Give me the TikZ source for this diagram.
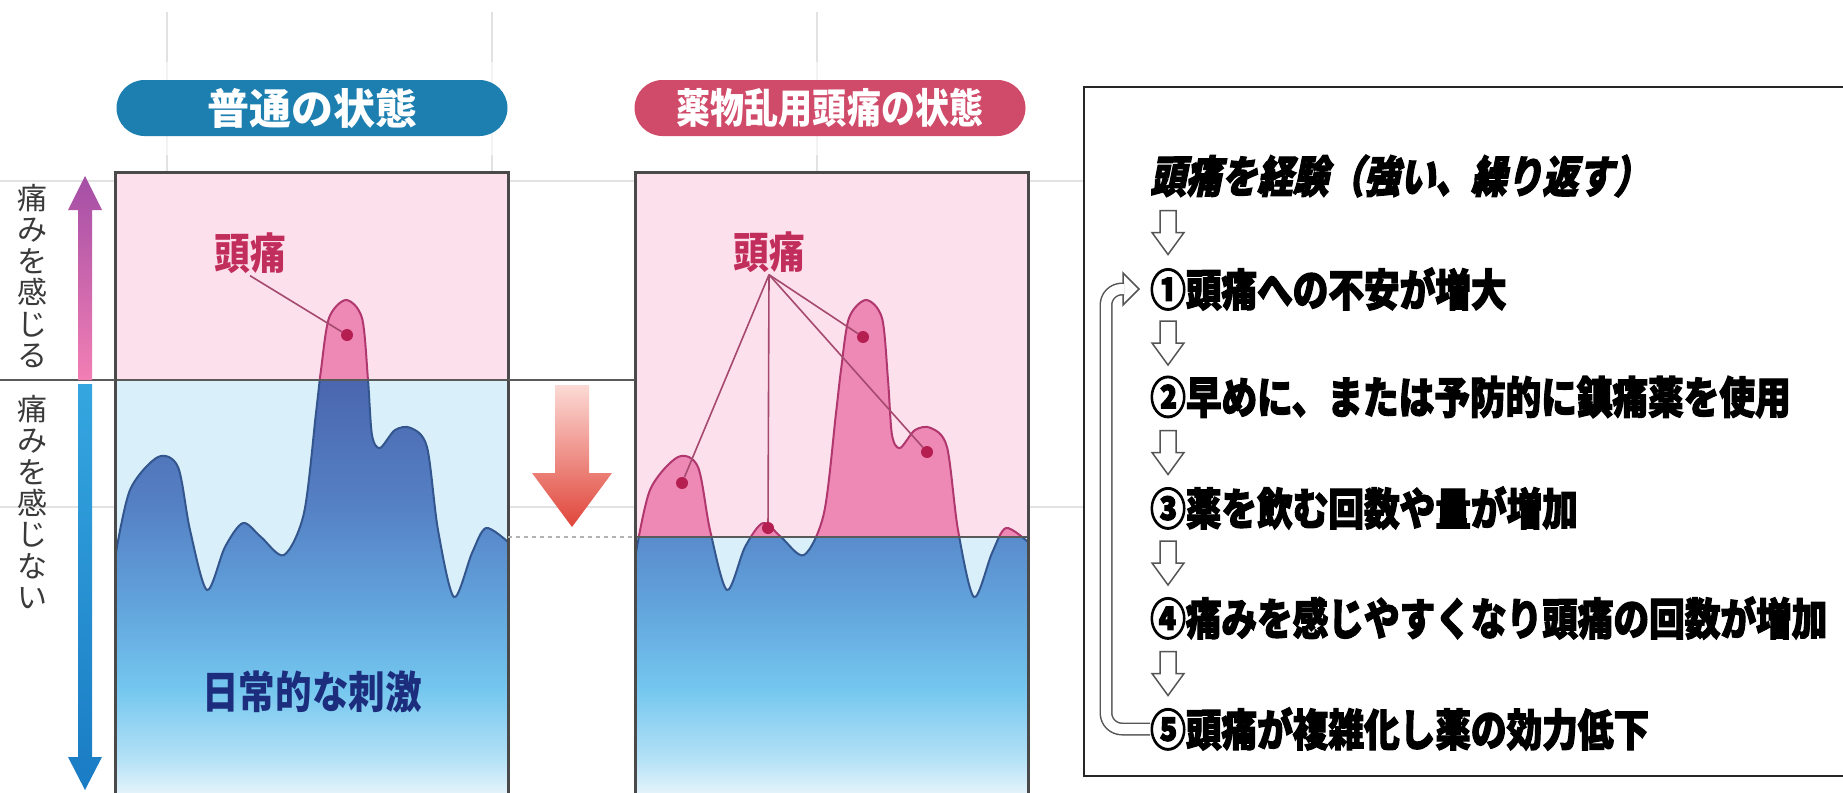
\documentclass[tikz,border=0pt]{standalone}
\usepackage{fontspec}
\usetikzlibrary{calc}

\newfontfamily\jp{Noto Sans CJK JP}
\newfontfamily\jpnarrow{Noto Sans CJK JP}[FakeStretch=0.83]
\newfontfamily\jpflow{Noto Sans CJK JP}[FakeStretch=0.81, BoldFeatures={FakeBold=2.5}]
\newfontfamily\jpflowit{Noto Sans CJK JP}[FakeStretch=0.81, FakeSlant=0.2, BoldFeatures={FakeBold=2.5}]

\definecolor{gridgray}{HTML}{E2E2E2}
\definecolor{boxgray}{HTML}{4A4A4A}
\definecolor{linegray}{HTML}{5A5A5A}
\definecolor{bgpink}{HTML}{FCE0EC}
\definecolor{bgblue}{HTML}{D9EFFA}
\definecolor{wavepink}{HTML}{EE88B5}
\definecolor{edgepink}{HTML}{B0386E}
\definecolor{edgeblue}{HTML}{34568E}
\definecolor{dotred}{HTML}{B51E50}
\definecolor{achered}{HTML}{C22E5C}
\definecolor{leadercol}{HTML}{A54A6E}
\definecolor{pillblue}{HTML}{1C7FAF}
\definecolor{pillpink}{HTML}{D04A6A}
\definecolor{navy}{HTML}{1B2D7C}
\definecolor{sidegray}{HTML}{3A3A3A}
\definecolor{arrowgray}{HTML}{555555}
\definecolor{redtop}{HTML}{FCDAD5}
\definecolor{redbot}{HTML}{E0453A}
\definecolor{uptop}{HTML}{A44EA6}
\definecolor{upbot}{HTML}{F27FB4}
\definecolor{downtop}{HTML}{35A6E0}
\definecolor{downbot}{HTML}{1A7CC4}
\definecolor{sh0}{HTML}{E2F3FB}
\definecolor{sh1}{HTML}{B4E1F6}
\definecolor{sh2}{HTML}{74C7EF}
\definecolor{sh3}{HTML}{62A4DC}
\definecolor{sh4}{HTML}{5580C4}
\definecolor{sh5}{HTML}{4A66AE}

\pgfdeclareverticalshading{painblue}{100bp}{color(0bp)=(sh0); color(25bp)=(sh0);
  color(29bp)=(sh1); color(37.5bp)=(sh2); color(47.5bp)=(sh3); color(60bp)=(sh4);
  color(75bp)=(sh5); color(100bp)=(sh5)}

% stimulus curve, box-relative
\newcommand{\wavearea}{(0,800) -- plot[smooth, tension=0.5] coordinates {(0,558) (15,490) (43,457)
  (63,467) (75,530) (92,590) (110,547) (128,523) (146,537) (169,555) (189,513) (201,413)
  (206,370) (214,318) (231,300) (247,318) (253,380) (257,435) (265,448) (280,430) (296,428)
  (312,447) (323,530) (339,597) (357,553) (371,528) (393,542)} -- (393,800) -- cycle}

% #1 left edge, #2 pain threshold
\newcommand{\painbox}[2]{%
  \begin{scope}[shift={(#1,0)}]
    \fill[bgpink] (0,172) rectangle (393,#2);
    \fill[bgblue] (0,#2) rectangle (393,800);
    \begin{scope}
      \clip \wavearea;
      \fill[wavepink] (0,172) rectangle (393,#2);
      \begin{scope}
        \clip (0,#2) rectangle (393,800);
        \shade[shading=painblue] (0,380) rectangle (393,792);
      \end{scope}
    \end{scope}
    \begin{scope}
      \clip (0,172) rectangle (393,#2);
      \draw[waveline, edgepink] \wavearea;
    \end{scope}
    \begin{scope}
      \clip (0,#2) rectangle (393,800);
      \draw[waveline, edgeblue] \wavearea;
    \end{scope}
    \draw[threshold] (0,#2) -- (393,#2);
    \draw[boxline] (0,800) -- (0,172) -- (393,172) -- (393,800);
  \end{scope}}

\begin{document}
\begin{tikzpicture}[x=1pt, y=-1pt,
    grid/.style={gridgray, line width=2pt},
    pill/.style={rounded corners=28pt, minimum width=391pt, minimum height=56pt, inner sep=0pt, text=white},
    boxline/.style={boxgray, line width=3pt},
    waveline/.style={line width=2pt},
    threshold/.style={draw=linegray, line width=2.5pt},
    ache/.style={text=achered, inner sep=2pt, font=\jpnarrow\bfseries\fontsize{43}{43}\selectfont},
    dot/.style={circle, fill=dotred, inner sep=0pt, minimum size=12pt},
    leader/.style={leadercol, line width=1.6pt},
    sidetext/.style={align=center, inner sep=0pt, text=sidegray, font=\jp\fontsize{30}{31.4}\selectfont},
    flowtext/.style={anchor=west, inner sep=0pt, font=\jpflow\bfseries\fontsize{44}{44}\selectfont},
    arrowline/.style={draw=arrowgray, fill=white, line width=1.5pt},
    tube/.style={arrowgray, line width=1.5pt, double=white, double distance=10pt},
    hollowdown/.pic={\draw[arrowline] (-8,-22) -- (-8,0) -- (-16,0) -- (0,22) -- (16,0) -- (8,0) -- (8,-22) -- cycle;}
  ]
  \fill[white] (0,0) rectangle (1843,792);
  \useasboundingbox (0,0) rectangle (1843,792);

  % background grid
  \draw[grid] (167,12) -- (167,172) (492,12) -- (492,172) (817,12) -- (817,172);
  \draw[grid] (0,181) -- (1084,181) (0,507) -- (1084,507);
  \fill[white, opacity=0.6] (100,62) rectangle (525,155) (617,62) rectangle (1043,155);

  % titles
  \node[pill, fill=pillblue, font=\jp\bfseries\fontsize{42}{42}\selectfont] (normal) at (312,108) {普通の状態};
  \node[pill, fill=pillpink, font=\jpnarrow\bfseries\fontsize{41}{41}\selectfont] (overuse) at (830,108) {薬物乱用頭痛の状態};

  % the two boxes
  \painbox{115}{380}
  \painbox{635}{537}
  \draw[threshold] (0,380) -- (115,380) (508,380) -- (635,380);
  \draw[threshold, draw=gray!60, dash pattern=on 4pt off 4pt] (508,537) -- (635,537);

  % threshold drop
  \shade[top color=redtop, bottom color=redbot] (555,385) -- (555,473) -- (532,473) -- (572,527)
    -- (612,473) -- (589,473) -- (589,385) -- cycle;

  % side scale
  \shade[top color=uptop, bottom color=upbot] (78,380) -- (78,210) -- (68,210) -- (85,176)
    -- (102,210) -- (92,210) -- (92,380) -- cycle;
  \shade[top color=downtop, bottom color=downbot] (78,384) -- (78,757) -- (68,757) -- (85,790)
    -- (102,757) -- (92,757) -- (92,384) -- cycle;
  \node[sidetext] (feel) at (32,276) {痛\\み\\を\\感\\じ\\る};
  \node[sidetext] (nofeel) at (32,502) {痛\\み\\を\\感\\じ\\な\\い};

  % labels, left
  \node[ache] (ache1) at (250,253) {頭痛};
  \node[dot] (d1) at (347,335) {};
  \draw[leader] (ache1.south) -- (d1);
  \node[text=navy, font=\jpnarrow\bfseries\fontsize{44}{44}\selectfont] (stim) at (312,692) {日常的な刺激};

  % labels, right
  \node[ache] (ache2) at (769,252) {頭痛};
  \node[dot] (d2) at (682,483) {};
  \node[dot] (d3) at (768,528) {};
  \node[dot] (d4) at (863,337) {};
  \node[dot] (d5) at (927,452) {};
  \foreach \d in {d2,d3,d4,d5}
    \draw[leader] (ache2.south) -- (\d);

  % flow
  \fill[white] (1084,87) rectangle (1850,776);
  \draw[black!85, line width=2.5pt] (1850,87) -- (1084,87) -- (1084,776) -- (1850,776);
  \node[flowtext, font=\jpflowit\bfseries\fontsize{44}{44}\selectfont] (t0) at (1150,176) {頭痛を経験（強い、繰り返す）};
  \node[flowtext] (t1) at (1150,289) {①頭痛への不安が増大};
  \node[flowtext] (t2) at (1150,397) {②早めに、または予防的に鎮痛薬を使用};
  \node[flowtext] (t3) at (1150,508) {③薬を飲む回数や量が増加};
  \node[flowtext] (t4) at (1150,618) {④痛みを感じやすくなり頭痛の回数が増加};
  \node[flowtext] (t5) at (1150,729) {⑤頭痛が複雑化し薬の効力低下};
  \foreach \a/\b in {t0/t1, t1/t2, t2/t3, t3/t4, t4/t5}
    \pic at ($(\a.west)!0.5!(\b.west)+(18,0)$) {hollowdown};
  \draw[tube, rounded corners=16pt] (t5.west) -| ($(t1.west)+(-44,0)$) -- ($(t1.west)+(-26,0)$);
  \draw[arrowgray, line width=1.5pt] ($(t1.west)+(-27,-6)$) -- ++(0,-10) -- ++(16,16) -- ++(-16,16) -- ++(0,-10);
\end{tikzpicture}
\end{document}
